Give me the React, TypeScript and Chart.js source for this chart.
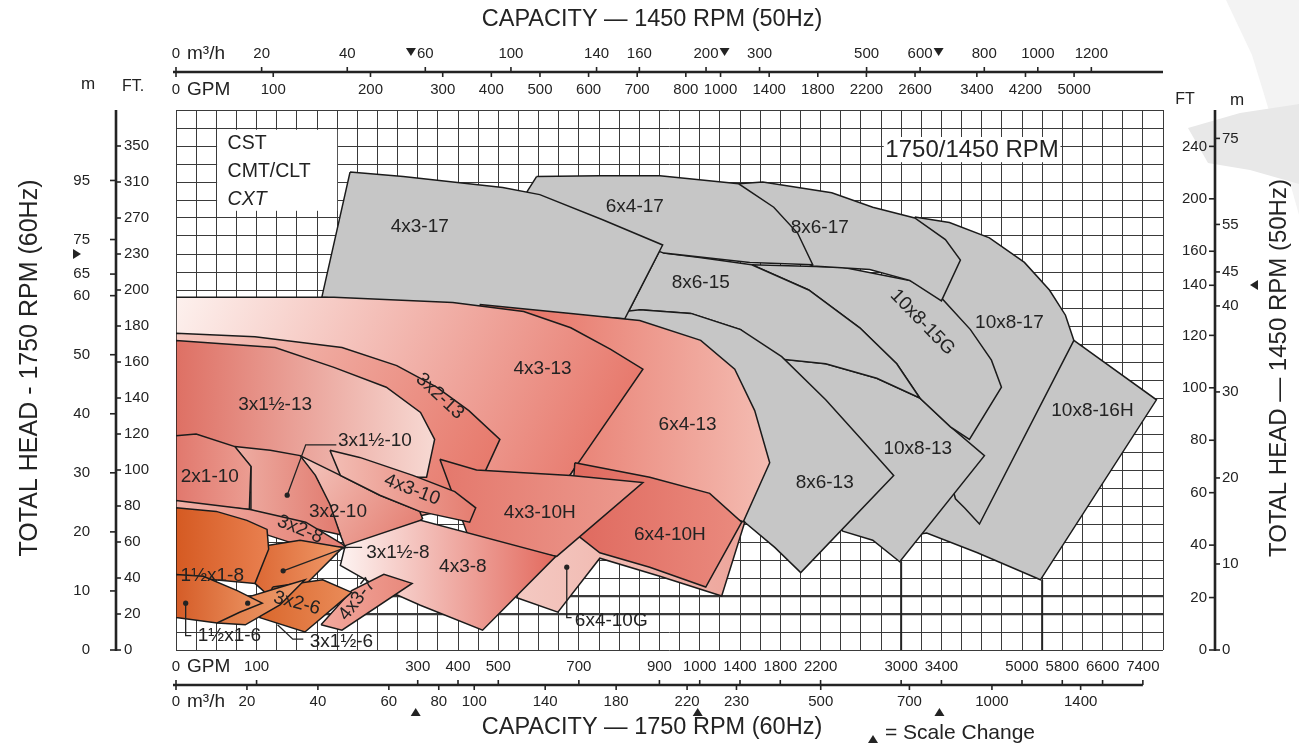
import React, { useEffect, useRef } from 'react';
import { Chart, LinearScale, registerables } from 'chart.js';

type Pt = [number, number]; // [capacity GPM @1750 RPM, total head FT @1750 RPM]

// ---------- axis calibration (scale-change breakpoints and grid divisions) ----------
const X_BREAK_GPM = [0, 300, 1000, 3400, 7800];
const X_BREAK_DIVS = [0, 12, 26, 38, 49];
const Y_BREAK_FT = [0, 200, 230, 390];
const Y_BREAK_DIVS = [0, 20, 22, 30];
const HEAVY_GRID_FT = [20, 30];

// ---------- tick labels ----------
const BOTTOM_GPM_TICKS = [0, 100, 300, 400, 500, 700, 900, 1000, 1400, 1800, 2200, 3000, 3400, 5000, 5800, 6600, 7400];
const BOTTOM_M3H_TICKS = [0, 20, 40, 60, 80, 100, 140, 180, 220, 310, 500, 700, 1000, 1400];
const BOTTOM_M3H_LABELS = ['0', '20', '40', '60', '80', '100', '140', '180', '220', '230', '500', '700', '1000', '1400'];
const TOP_M3H_TICKS = [0, 20, 40, 60, 100, 140, 160, 200, 300, 500, 600, 800, 1000, 1200];
const TOP_GPM_TICKS = [0, 100, 200, 300, 400, 500, 600, 700, 800, 1000, 1400, 1800, 2200, 2600, 3400, 4200, 5000];
const TOP_SCALE_MARKS = [60, 200, 600];
const TOP_SCALE_SIDES = [-1, 1, 1];
const LEFT_FT_TICKS = [0, 20, 40, 60, 80, 100, 120, 140, 160, 180, 200, 230, 270, 310, 350];
const LEFT_M_TICKS = [0, 10, 20, 30, 40, 50, 60, 65, 75, 95];
const RIGHT_FT_TICKS = [0, 20, 40, 60, 80, 100, 120, 140, 160, 200, 240];
const RIGHT_M_TICKS = [0, 10, 20, 30, 40, 45, 55, 75];

// ---------- unit conversions ----------
const FT_PER_M = 3.281;
const GPM_PER_M3H = 4.403;
const Q50 = 1450 / 1750;
const H50 = Q50 * Q50;

// ---------- pump coverage areas (GPM, FT at 1750 RPM) ----------
const P_10x8_16H: Pt[] = [[6030, 172], [7670, 139], [5366, 39], [4115, 54], [3254, 65], [3135, 64], [3333, 94]];
const P_10x8_17: Pt[] = [[3135, 271], [3559, 265], [4353, 248], [5048, 223], [5545, 200], [5863, 186], [6030, 172], [4155, 70], [3857, 79], [3678, 84], [3383, 117], [3393, 196]];
const P_10x8_13: Pt[] = [[1745, 162], [2251, 159], [2758, 151], [3185, 140], [3579, 124], [4254, 108], [2986, 49], [2718, 61], [2420, 66], [2192, 83], [1894, 128]];
const P_10x8_15G: Pt[] = [[1516, 221], [2420, 219], [3085, 208], [3393, 196], [3976, 178], [4393, 161], [4592, 146], [3956, 117], [3579, 124], [3185, 140], [2956, 159], [2589, 179], [2082, 200]];
const P_8x6_15: Pt[] = [[911, 231], [1000, 227], [1516, 221], [2082, 200], [2589, 179], [2956, 159], [3185, 140], [2758, 151], [2251, 159], [1745, 162], [1407, 178], [978, 187], [851, 189], [814, 184], [901, 234]];
const P_8x6_13: Pt[] = [[814, 188], [851, 189], [978, 187], [1407, 178], [1814, 163], [2251, 139], [2589, 118], [2926, 97], [2003, 43], [1745, 57], [1447, 71], [1000, 100], [814, 178]];
const P_8x6_17: Pt[] = [[1387, 308], [1626, 310], [2311, 298], [2718, 282], [3135, 270], [3479, 246], [3777, 225], [3400, 194], [3085, 208], [2688, 217], [2122, 220], [1596, 246]];
const P_6x4_17: Pt[] = [[595, 316], [752, 317], [901, 317], [1387, 308], [1735, 282], [1973, 253], [2122, 221], [1497, 223], [911, 231], [752, 257], [571, 299]];
const P_4x3_17: Pt[] = [[216, 321], [282, 316], [511, 304], [603, 296], [759, 268], [908, 240], [814, 184], [181, 196]];
const P_6x4_13: Pt[] = [[454, 192], [680, 187], [851, 183], [1010, 172], [1348, 156], [1546, 133], [1695, 104], [1407, 68], [752, 61], [603, 100]];
const P_4x3_13: Pt[] = [[0, 196], [196, 196], [387, 193], [563, 188], [680, 179], [779, 167], [859, 156], [665, 93], [278, 72], [0, 72]];
const P_3x2_13: Pt[] = [[0, 176], [98, 174], [206, 168], [274, 158], [347, 146], [427, 133], [504, 117], [432, 82], [154, 83], [0, 94]];
const P_3x1h_13: Pt[] = [[0, 172], [123, 168], [196, 157], [261, 146], [307, 132], [342, 117], [322, 96], [0, 96]];
const P_6x4_10G: Pt[] = [[603, 72], [690, 101], [866, 90], [1447, 71], [1218, 30], [901, 41], [752, 51], [648, 21], [546, 29]];
const P_6x4_10H: Pt[] = [[690, 104], [876, 96], [1099, 87], [1417, 71], [1060, 35], [876, 46], [752, 54], [678, 67]];
const P_4x3_10H: Pt[] = [[355, 106], [446, 100], [680, 97], [859, 93], [645, 52], [429, 61]];
const P_3x2_10: Pt[] = [[154, 108], [204, 97], [253, 86], [305, 77], [312, 73], [272, 58], [210, 57], [197, 72], [176, 94]];
const P_4x3_10: Pt[] = [[191, 111], [228, 107], [294, 97], [392, 88], [444, 79], [429, 71], [305, 77], [253, 86], [204, 97]];
const P_3x1h_10: Pt[] = [[73, 113], [117, 111], [154, 108], [173, 97], [191, 81], [204, 64], [154, 69], [92, 78], [93, 102]];
const P_2x1_10: Pt[] = [[0, 119], [25, 120], [73, 113], [93, 102], [91, 78], [0, 82]];
const P_4x3_8: Pt[] = [[210, 58], [307, 72], [643, 52], [461, 11], [305, 25], [247, 36], [204, 47]];
const P_3x2_8: Pt[] = [[0, 83], [92, 78], [161, 71], [206, 59], [211, 57], [154, 58], [92, 67], [0, 77]];
const P_4x3_7: Pt[] = [[180, 14], [218, 33], [258, 42], [293, 37], [206, 11]];
const P_3x1h_8: Pt[] = [[98, 57], [154, 61], [207, 57], [160, 36], [118, 29], [98, 37]];
const P_1hx1_8: Pt[] = [[0, 79], [50, 77], [88, 72], [113, 67], [115, 56], [98, 37], [0, 41]];
const P_3x2_6: Pt[] = [[120, 35], [182, 39], [218, 32], [160, 10], [104, 18]];
const P_3x1h_6: Pt[] = [[51, 15], [79, 28], [123, 34], [160, 39], [129, 25], [86, 14]];
const P_1hx1_6: Pt[] = [[0, 42], [34, 41], [76, 33], [107, 26], [79, 21], [51, 15], [0, 18]];

// drop lines from the lowest corners of two large casings down to zero head
const TIP_DROPS: Pt[] = [[3000, 49], [5400, 39]];

// back to front
const PUMPS: { name: string; pts: Pt[] }[] = [
  { name: '10x8-16H', pts: P_10x8_16H },
  { name: '10x8-17', pts: P_10x8_17 },
  { name: '10x8-13', pts: P_10x8_13 },
  { name: '10x8-15G', pts: P_10x8_15G },
  { name: '8x6-15', pts: P_8x6_15 },
  { name: '8x6-13', pts: P_8x6_13 },
  { name: '8x6-17', pts: P_8x6_17 },
  { name: '6x4-17', pts: P_6x4_17 },
  { name: '4x3-17', pts: P_4x3_17 },
  { name: '6x4-13', pts: P_6x4_13 },
  { name: '4x3-13', pts: P_4x3_13 },
  { name: '3x2-13', pts: P_3x2_13 },
  { name: '3x1½-13', pts: P_3x1h_13 },
  { name: '6x4-10G', pts: P_6x4_10G },
  { name: '6x4-10H', pts: P_6x4_10H },
  { name: '4x3-10H', pts: P_4x3_10H },
  { name: '3x2-10', pts: P_3x2_10 },
  { name: '4x3-10', pts: P_4x3_10 },
  { name: '3x1½-10', pts: P_3x1h_10 },
  { name: '2x1-10', pts: P_2x1_10 },
  { name: '4x3-8', pts: P_4x3_8 },
  { name: '3x2-8', pts: P_3x2_8 },
  { name: '4x3-7', pts: P_4x3_7 },
  { name: '3x1½-8', pts: P_3x1h_8 },
  { name: '1½x1-8', pts: P_1hx1_8 },
  { name: '3x2-6', pts: P_3x2_6 },
  { name: '3x1½-6', pts: P_3x1h_6 },
  { name: '1½x1-6', pts: P_1hx1_6 },
];

// ---------- fill styles ----------
const GRAY = '#c6c6c6';
const FILLS: Record<string, [string, string, string]> = {
  '10x8-16H': [GRAY, GRAY, 'h'], '10x8-17': [GRAY, GRAY, 'h'], '10x8-13': [GRAY, GRAY, 'h'],
  '10x8-15G': [GRAY, GRAY, 'h'], '8x6-15': [GRAY, GRAY, 'h'], '8x6-13': [GRAY, GRAY, 'h'],
  '8x6-17': [GRAY, GRAY, 'h'], '6x4-17': [GRAY, GRAY, 'h'], '4x3-17': [GRAY, GRAY, 'h'],
  '6x4-13': ['#e4685a', '#f4bcb2', 'h'],
  '4x3-13': ['#fdf1ee', '#e4685a', 'd'],
  '3x2-13': ['#f5c8c0', '#e67466', 'd'],
  '3x1½-13': ['#de7064', '#f7d9d3', 'h'],
  '6x4-10G': ['#f4c9c2', '#eda59b', 'h'],
  '6x4-10H': ['#df695e', '#ea8a7e', 'h'],
  '4x3-10H': ['#e4786c', '#ec9a8f', 'h'],
  '3x2-10': ['#f4c8c0', '#e3786b', 'd'],
  '4x3-10': ['#f3beb5', '#e57d70', 'h'],
  '3x1½-10': ['#eeaea4', '#e17a6e', 'h'],
  '2x1-10': ['#e1786d', '#eb9d92', 'h'],
  '4x3-8': ['#fdf3f1', '#e36a5e', 'h'],
  '3x2-8': ['#f1b0a6', '#e47e72', 'h'],
  '4x3-7': ['#f2a89d', '#e8887b', 'h'],
  '3x1½-8': ['#dc6834', '#f09a6a', 'h'],
  '1½x1-8': ['#d55a22', '#e98050', 'h'],
  '3x2-6': ['#da682d', '#ea8c5a', 'h'],
  '3x1½-6': ['#e07a44', '#ee9e70', 'h'],
  '1½x1-6': ['#d55c27', '#ec9463', 'h'],
};

// ---------- annotations (GPM, FT at 1750 RPM) ----------
const PUMP_LABELS: { t: string; q: number; h: number; r?: number }[] = [
  { t: '4x3-17', q: 305, h: 260 }, { t: '6x4-17', q: 839, h: 282 }, { t: '8x6-17', q: 2192, h: 259 },
  { t: '8x6-15', q: 1010, h: 206 }, { t: '10x8-15G', q: 3211, h: 182, r: 0.8 }, { t: '10x8-17', q: 4750, h: 182 },
  { t: '10x8-16H', q: 6399, h: 133 }, { t: '10x8-13', q: 3165, h: 112 }, { t: '8x6-13', q: 2241, h: 93 },
  { t: '4x3-13', q: 610, h: 156 }, { t: '6x4-13', q: 970, h: 125 }, { t: '3x1½-13', q: 123, h: 136 },
  { t: '3x2-13', q: 355, h: 141, r: 0.75 }, { t: '2x1-10', q: 42, h: 96 }, { t: '4x3-10', q: 293, h: 89, r: 0.37 },
  { t: '3x2-10', q: 201, h: 77 }, { t: '4x3-10H', q: 603, h: 76 }, { t: '6x4-10H', q: 926, h: 64 },
  { t: '3x2-8', q: 154, h: 67, r: 0.39 }, { t: '4x3-8', q: 412, h: 46 }, { t: '1½x1-8', q: 45, h: 41 },
  { t: '3x2-6', q: 150, h: 26, r: 0.26 }, { t: '4x3-7', q: 225, h: 28, r: -0.9 },
];
const LEADER_LABELS: { t: string; q: number; h: number; path: Pt[] }[] = [
  { t: '3x1½-10', q: 201, h: 116, path: [[138, 86], [161, 114], [199, 114]] },
  { t: '3x1½-8', q: 236, h: 54, path: [[133, 44], [211, 57], [231, 57]] },
  { t: '6x4-10G', q: 690, h: 16, path: [[670, 46], [670, 18], [682, 18]] },
  { t: '1½x1-6', q: 27, h: 8, path: [[12, 26], [12, 8], [19, 8]] },
  { t: '3x1½-6', q: 166, h: 4.4, path: [[126, 14], [145, 6], [158, 6]] },
];
const DOTS: Pt[] = [[138, 86], [133, 44], [670, 46], [12, 26], [89, 26]];
const LEGEND_BOX = { q0: 51, q1: 200, h0: 278, h1: 368 };
const LEGEND_LINES = ['CST', 'CMT/CLT', 'CXT'];
const LEGEND_ROWS_FT = [353, 321, 290];
const LEGEND_Q = 64;
const RPM_BOX = { q0: 2827, q1: 5763, h0: 332, h1: 360 };
const RPM_TEXT = '1750/1450 RPM';

// ---------- piecewise (scale-change) axis ----------
const BREAKS: Record<string, [number[], number[]]> = {
  x: [X_BREAK_GPM, X_BREAK_DIVS],
  y: [Y_BREAK_FT, Y_BREAK_DIVS],
};
function toDivs(v: number, vals: number[], divs: number[]) {
  const n = vals.length;
  for (let i = 1; i < n; i++) {
    if (v <= vals[i] || i === n - 1) {
      return divs[i - 1] + ((v - vals[i - 1]) * (divs[i] - divs[i - 1])) / (vals[i] - vals[i - 1]);
    }
  }
  return 0;
}
function fromDivs(u: number, vals: number[], divs: number[]) {
  const n = divs.length;
  for (let i = 1; i < n; i++) {
    if (u <= divs[i] || i === n - 1) {
      return vals[i - 1] + ((u - divs[i - 1]) * (vals[i] - vals[i - 1])) / (divs[i] - divs[i - 1]);
    }
  }
  return 0;
}
function gridValues(vals: number[], divs: number[]) {
  const out: number[] = [];
  for (let i = 1; i < vals.length; i++) {
    const steps = divs[i] - divs[i - 1];
    for (let k = i === 1 ? 0 : 1; k <= steps; k++) out.push(vals[i - 1] + ((vals[i] - vals[i - 1]) * k) / steps);
  }
  return out;
}

class PiecewiseScale extends LinearScale {
  static id = 'piecewise';
  static defaults = {};
  getPixelForValue(value: any) {
    if (value === null || value === undefined || isNaN(value)) return NaN;
    const [vals, divs] = BREAKS[(this as any).id];
    return (this as any).getPixelForDecimal(toDivs(value, vals, divs) / divs[divs.length - 1]);
  }
  getValueForPixel(pixel: number) {
    const [vals, divs] = BREAKS[(this as any).id];
    return fromDivs((this as any).getDecimalForPixel(pixel) * divs[divs.length - 1], vals, divs);
  }
}

Chart.register(...registerables, PiecewiseScale as any);

// ---------- drawing helpers ----------
const FAM = '"Liberation Sans", Arial, sans-serif';
const f = (s: number, st = '') => `${st}${st ? ' ' : ''}${s}px ${FAM}`;
const INK = '#232323';

function seg(c: CanvasRenderingContext2D, x1: number, y1: number, x2: number, y2: number, w: number) {
  c.lineWidth = w;
  c.beginPath();
  c.moveTo(x1, y1);
  c.lineTo(x2, y2);
  c.stroke();
}
function txt(c: CanvasRenderingContext2D, s: string, x: number, y: number, font: string, align: CanvasTextAlign = 'center') {
  c.font = font;
  c.textAlign = align;
  c.textBaseline = 'middle';
  c.fillText(s, x, y);
}
function tri(c: CanvasRenderingContext2D, x: number, y: number, dir: string, s: number) {
  c.beginPath();
  if (dir === 'down') { c.moveTo(x - s, y - s * 0.8); c.lineTo(x + s, y - s * 0.8); c.lineTo(x, y + s * 0.8); }
  if (dir === 'up') { c.moveTo(x - s, y + s * 0.8); c.lineTo(x + s, y + s * 0.8); c.lineTo(x, y - s * 0.8); }
  if (dir === 'right') { c.moveTo(x - s * 0.8, y - s); c.lineTo(x - s * 0.8, y + s); c.lineTo(x + s * 0.8, y); }
  if (dir === 'left') { c.moveTo(x + s * 0.8, y - s); c.lineTo(x + s * 0.8, y + s); c.lineTo(x - s * 0.8, y); }
  c.closePath();
  c.fill();
}
function polyPath(c: CanvasRenderingContext2D, pts: number[][]) {
  c.beginPath();
  pts.forEach((p, i) => (i ? c.lineTo(p[0], p[1]) : c.moveTo(p[0], p[1])));
  c.closePath();
  c.fill();
}

function makeFill(chart: any, pts: Pt[], name: string) {
  const st = FILLS[name];
  const xs = chart.scales && chart.scales.x;
  const ys = chart.scales && chart.scales.y;
  if (!xs || !ys || !chart.chartArea || st[0] === st[1]) return st[0];
  let x0 = Infinity, y0 = Infinity, x1 = -Infinity, y1 = -Infinity;
  for (const [q, h] of pts) {
    const px = xs.getPixelForValue(q), py = ys.getPixelForValue(h);
    x0 = Math.min(x0, px); x1 = Math.max(x1, px); y0 = Math.min(y0, py); y1 = Math.max(y1, py);
  }
  if (!isFinite(x0) || !isFinite(y0)) return st[0];
  const g = st[2] === 'd'
    ? chart.ctx.createLinearGradient(x0, y0, x1, y1)
    : chart.ctx.createLinearGradient(x0, 0, x1, 0);
  g.addColorStop(0, st[0]);
  g.addColorStop(1, st[1]);
  return g;
}

const decor = {
  id: 'decor',
  beforeDraw(chart: any) {
    const c = chart.ctx as CanvasRenderingContext2D;
    c.save();
    c.fillStyle = '#ffffff';
    c.fillRect(0, 0, chart.width, chart.height);
    c.fillStyle = '#f3f3f3';
    polyPath(c, [[1226, 0], [1299, 0], [1299, 215], [1278, 140], [1252, 55]]);
    c.fillStyle = '#e8e8e8';
    polyPath(c, [[1188, 128], [1240, 113], [1299, 104], [1299, 184], [1250, 170], [1208, 163]]);
    c.restore();
  },
  beforeDatasetsDraw(chart: any) {
    const c = chart.ctx as CanvasRenderingContext2D;
    const X = (q: number) => chart.scales.x.getPixelForValue(q);
    const Y = (h: number) => chart.scales.y.getPixelForValue(h);
    c.save();
    c.fillStyle = '#ffffff';
    for (const b of [LEGEND_BOX, RPM_BOX]) {
      c.fillRect(X(b.q0), Y(b.h1), X(b.q1) - X(b.q0), Y(b.h0) - Y(b.h1));
    }
    c.strokeStyle = INK;
    for (const [q, h] of TIP_DROPS) seg(c, X(q), Y(h), X(q), Y(0), 2);
    c.restore();
  },
  afterDatasetsDraw(chart: any) {
    const c = chart.ctx as CanvasRenderingContext2D;
    const X = (q: number) => chart.scales.x.getPixelForValue(q);
    const Y = (h: number) => chart.scales.y.getPixelForValue(h);
    c.save();
    c.fillStyle = INK;
    c.strokeStyle = INK;
    for (const l of PUMP_LABELS) {
      c.save();
      c.translate(X(l.q), Y(l.h));
      if (l.r) c.rotate(l.r);
      txt(c, l.t, 0, 0, f(19));
      c.restore();
    }
    for (const l of LEADER_LABELS) {
      c.beginPath();
      l.path.forEach(([q, h], i) => (i ? c.lineTo(X(q), Y(h)) : c.moveTo(X(q), Y(h))));
      c.lineWidth = 1.3;
      c.stroke();
      txt(c, l.t, X(l.q), Y(l.h), f(19), 'left');
    }
    for (const [q, h] of DOTS) {
      c.beginPath();
      c.arc(X(q), Y(h), 2.6, 0, Math.PI * 2);
      c.fill();
    }
    LEGEND_LINES.forEach((s, i) => txt(c, s, X(LEGEND_Q), Y(LEGEND_ROWS_FT[i]), f(19.5, i === 2 ? 'italic' : ''), 'left'));
    txt(c, RPM_TEXT, (X(RPM_BOX.q0) + X(RPM_BOX.q1)) / 2, (Y(RPM_BOX.h0) + Y(RPM_BOX.h1)) / 2 + 1, f(24));
    c.restore();
  },
  afterDraw(chart: any) {
    const c = chart.ctx as CanvasRenderingContext2D;
    const X = (q: number) => chart.scales.x.getPixelForValue(q);
    const Y = (h: number) => chart.scales.y.getPixelForValue(h);
    const area = chart.chartArea;
    c.save();
    c.fillStyle = INK;
    c.strokeStyle = INK;

    // ----- top axis: 1450 RPM (50 Hz) -----
    txt(c, 'CAPACITY — 1450 RPM (50Hz)', 652, 20, f(23.5));
    const tY = 72;
    seg(c, X(0) - 3, tY, X(7800), tY, 2.6);
    TOP_M3H_TICKS.forEach((v) => {
      const x = X((v * GPM_PER_M3H) / Q50);
      seg(c, x, tY - 5, x, tY, 1.6);
      if (v === 0) {
        txt(c, '0', x, 54, f(15));
        txt(c, 'm³/h', x + 11, 54, f(19), 'left');
      } else {
        txt(c, String(v), x, 54, f(15));
      }
    });
    TOP_SCALE_MARKS.forEach((v, i) => {
      const x = X((v * GPM_PER_M3H) / Q50);
      c.font = f(15);
      const w = c.measureText(String(v)).width;
      tri(c, x + TOP_SCALE_SIDES[i] * (w / 2 + 6), 52, 'down', 5);
    });
    TOP_GPM_TICKS.forEach((v) => {
      const x = X(v / Q50);
      seg(c, x, tY, x, tY + 5, 1.6);
      if (v === 0) {
        txt(c, '0', x, 90, f(15));
        txt(c, 'GPM', x + 11, 90, f(19), 'left');
      } else {
        txt(c, String(v), x, 90, f(15));
      }
    });

    // ----- bottom axis: 1750 RPM (60 Hz) -----
    const bY = 685;
    seg(c, X(0) - 3, bY, X(7400), bY, 2.6);
    BOTTOM_GPM_TICKS.forEach((v) => {
      const x = X(v);
      seg(c, x, bY - 5, x, bY, 1.6);
      if (v === 0) {
        txt(c, '0', x, 667, f(15));
        txt(c, 'GPM', x + 11, 667, f(19), 'left');
      } else {
        txt(c, String(v), x, 667, f(15));
      }
    });
    BOTTOM_M3H_TICKS.forEach((v, i) => {
      const x = X(v * GPM_PER_M3H);
      seg(c, x, bY, x, bY + 5, 1.6);
      if (v === 0) {
        txt(c, '0', x, 702, f(15));
        txt(c, 'm³/h', x + 11, 702, f(19), 'left');
      } else {
        txt(c, BOTTOM_M3H_LABELS[i], x, 702, f(15));
      }
    });
    X_BREAK_GPM.slice(1, 4).forEach((q) => tri(c, X(q) - 2, 712, 'up', 5));
    txt(c, 'CAPACITY — 1750 RPM (60Hz)', 652, 728, f(23.5));
    tri(c, 873, 739, 'up', 5);
    txt(c, '= Scale Change', 885, 733, f(21), 'left');

    // ----- left axis: 1750 RPM (60 Hz) -----
    const lX = 116;
    seg(c, lX, area.top, lX, area.bottom + 1, 2.6);
    LEFT_FT_TICKS.forEach((v) => {
      const y = Y(v);
      seg(c, lX, y, lX + 5, y, 1.6);
      txt(c, String(v), lX + 8, y, f(15), 'left');
    });
    LEFT_M_TICKS.forEach((v) => {
      const y = Y(v * FT_PER_M);
      seg(c, lX - 6, y, lX, y, 1.6);
      txt(c, String(v), lX - 26, y, f(15), 'right');
    });
    tri(c, 77, Y(Y_BREAK_FT[2]), 'right', 5);
    txt(c, 'm', 88, 84, f(17));
    txt(c, 'FT.', 133, 87, f(16));
    c.save();
    c.translate(30, 368);
    c.rotate(-Math.PI / 2);
    txt(c, 'TOTAL HEAD - 1750 RPM (60Hz)', 0, 0, f(25));
    c.restore();

    // ----- right axis: 1450 RPM (50 Hz) -----
    const rX = 1215;
    seg(c, rX, area.top, rX, area.bottom + 1, 2.6);
    RIGHT_FT_TICKS.forEach((v) => {
      const y = Y(v / H50);
      seg(c, rX - 6, y, rX, y, 1.6);
      txt(c, String(v), rX - 8, y, f(15), 'right');
    });
    RIGHT_M_TICKS.forEach((v) => {
      const y = Y((v * FT_PER_M) / H50);
      seg(c, rX, y, rX + 5, y, 1.6);
      txt(c, String(v), rX + 7, y, f(15), 'left');
    });
    tri(c, 1254, Y(Y_BREAK_FT[1]) - 5, 'left', 5);
    txt(c, 'FT', 1185, 100, f(16));
    txt(c, 'm', 1237, 100, f(17));
    c.save();
    c.translate(1279, 368);
    c.rotate(-Math.PI / 2);
    txt(c, 'TOTAL HEAD — 1450 RPM (50Hz)', 0, 0, f(24));
    c.restore();

    c.restore();
  },
};

export default function App() {
  const ref = useRef<HTMLCanvasElement | null>(null);
  useEffect(() => {
    document.body.style.margin = '0';
    const canvas = ref.current;
    if (!canvas) return;
    const datasets = PUMPS.map((p, i) => ({
      label: p.name,
      data: [...p.pts, p.pts[0]].map(([x, y]) => ({ x, y })),
      borderColor: '#1b1b1b',
      borderWidth: 1.5,
      backgroundColor: (ctx: any) => makeFill(ctx.chart, p.pts, p.name),
      fill: 'shape',
      pointRadius: 0,
      pointHoverRadius: 0,
      tension: 0,
      order: PUMPS.length - i,
    }));
    const chart = new Chart(canvas, {
      type: 'line',
      data: { datasets: datasets as any },
      options: {
        responsive: false,
        animation: false,
        events: [],
        layout: { padding: { left: 176, right: 136, top: 110, bottom: 97 } },
        plugins: { legend: { display: false }, tooltip: { enabled: false } },
        scales: {
          x: {
            type: 'piecewise' as any,
            min: 0,
            max: 7800,
            afterBuildTicks: (s: any) => { s.ticks = gridValues(X_BREAK_GPM, X_BREAK_DIVS).map((value) => ({ value })); },
            afterFit: (s: any) => { s.height = 0; },
            ticks: { display: false },
            border: { display: false },
            grid: { color: '#3a3a3a', lineWidth: 1, drawTicks: false },
          },
          y: {
            type: 'piecewise' as any,
            min: 0,
            max: 390,
            afterBuildTicks: (s: any) => { s.ticks = gridValues(Y_BREAK_FT, Y_BREAK_DIVS).map((value) => ({ value })); },
            afterFit: (s: any) => { s.width = 0; },
            ticks: { display: false },
            border: { display: false },
            grid: {
              color: '#3a3a3a',
              drawTicks: false,
              lineWidth: (ctx: any) => (ctx.tick && HEAVY_GRID_FT.includes(ctx.tick.value) ? 2.2 : 1),
            },
          },
        } as any,
      },
      plugins: [decor as any],
    });
    return () => chart.destroy();
  }, []);
  return (
    <div style={{ width: 1299, height: 747 }}>
      <canvas ref={ref} width={1299} height={747} style={{ display: 'block' }} />
    </div>
  );
}
